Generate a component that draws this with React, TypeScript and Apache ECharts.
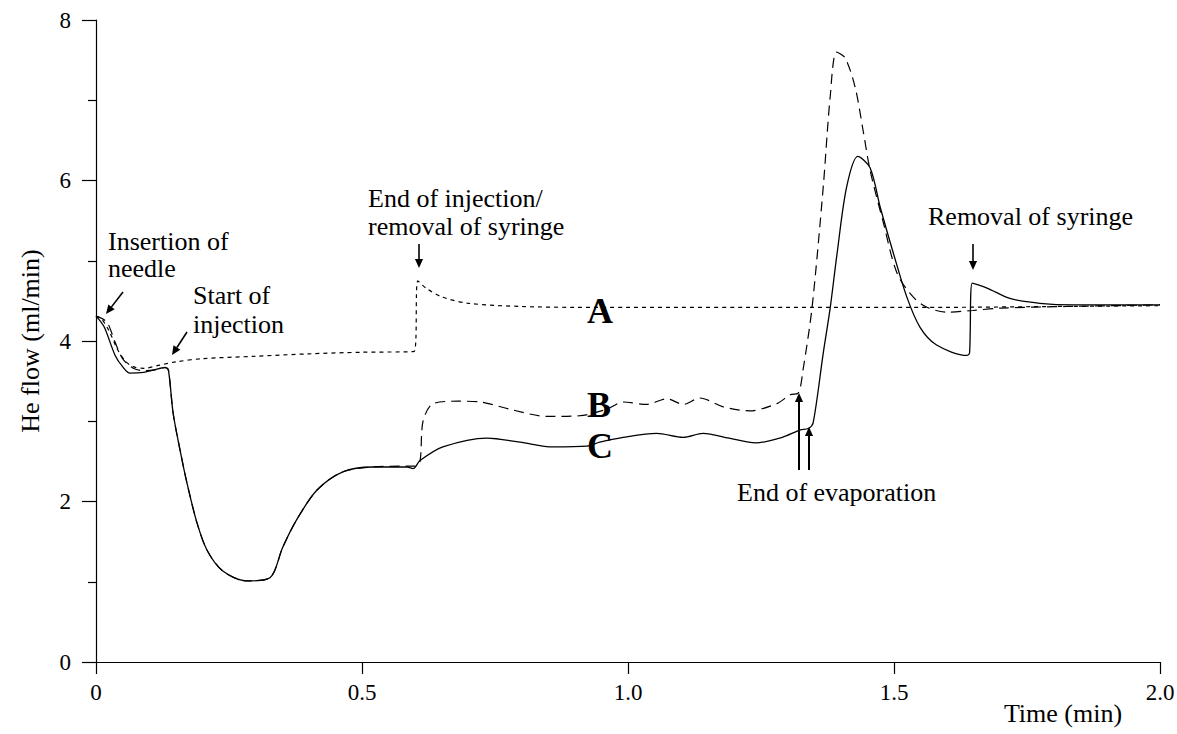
import React, { useEffect, useRef } from "react";
import * as echarts from "echarts";

// Curve A (short dashes)
const timeA = [0, 0.01, 0.025, 0.04, 0.055, 0.07, 0.09, 0.12, 0.15, 0.2, 0.3, 0.4, 0.5, 0.598, 0.605, 0.62, 0.65, 0.7, 0.8, 0.9, 1.0, 1.3, 1.6, 1.8, 2.0];
const flowA = [4.31, 4.28, 4.12, 3.9, 3.75, 3.68, 3.66, 3.7, 3.74, 3.78, 3.81, 3.84, 3.86, 3.87, 4.75, 4.66, 4.55, 4.47, 4.43, 4.42, 4.42, 4.42, 4.42, 4.43, 4.44];

// Curve B (long dashes)
const timeB = [0, 0.02, 0.035, 0.05, 0.07, 0.09, 0.11, 0.13, 0.136, 0.145, 0.158, 0.171, 0.19, 0.209, 0.239, 0.284, 0.327, 0.351, 0.377, 0.415, 0.464, 0.52, 0.584, 0.6, 0.609, 0.615, 0.634, 0.68, 0.722, 0.784, 0.847, 0.91, 0.96, 0.991, 1.035, 1.073, 1.104, 1.135, 1.179, 1.229, 1.28, 1.305, 1.32, 1.329, 1.346, 1.367, 1.38, 1.392, 1.408, 1.427, 1.442, 1.455, 1.479, 1.506, 1.536, 1.562, 1.6, 1.648, 1.7, 1.825, 2.0];
const flowB = [4.31, 4.24, 4.0, 3.78, 3.66, 3.63, 3.64, 3.67, 3.64, 3.1, 2.64, 2.23, 1.73, 1.39, 1.13, 1.01, 1.05, 1.43, 1.77, 2.14, 2.37, 2.43, 2.44, 2.44, 2.5, 3.01, 3.22, 3.25, 3.24, 3.14, 3.06, 3.07, 3.15, 3.24, 3.21, 3.28, 3.21, 3.29, 3.18, 3.13, 3.22, 3.33, 3.35, 3.64, 4.42, 5.92, 7.04, 7.6, 7.53, 7.16, 6.62, 6.13, 5.5, 4.84, 4.55, 4.42, 4.36, 4.38, 4.41, 4.43, 4.45];

// Curve C (solid)
const timeC = [0, 0.015, 0.036, 0.05, 0.064, 0.09, 0.11, 0.13, 0.136, 0.145, 0.158, 0.171, 0.19, 0.209, 0.239, 0.284, 0.327, 0.351, 0.377, 0.415, 0.464, 0.52, 0.585, 0.596, 0.609, 0.652, 0.735, 0.797, 0.859, 0.923, 0.947, 0.991, 1.054, 1.104, 1.141, 1.19, 1.24, 1.29, 1.323, 1.339, 1.348, 1.367, 1.38, 1.393, 1.411, 1.432, 1.455, 1.474, 1.499, 1.524, 1.549, 1.58, 1.637, 1.642, 1.647, 1.675, 1.718, 1.774, 1.837, 2.0];
const flowC = [4.31, 4.18, 3.82, 3.68, 3.6, 3.61, 3.64, 3.67, 3.64, 3.1, 2.64, 2.23, 1.73, 1.39, 1.13, 1.01, 1.05, 1.43, 1.77, 2.14, 2.37, 2.43, 2.43, 2.41, 2.51, 2.68, 2.79, 2.74, 2.68, 2.69, 2.74, 2.8, 2.85, 2.8, 2.85, 2.79, 2.73, 2.8, 2.89, 2.91, 2.98, 3.85, 4.41, 5.09, 5.92, 6.3, 6.16, 5.67, 5.09, 4.55, 4.17, 3.95, 3.82, 3.85, 4.72, 4.66, 4.53, 4.47, 4.45, 4.45];

const xTicks = [0, 0.5, 1.0, 1.5, 2.0];
const xTickLabels = ["0", "0.5", "1.0", "1.5", "2.0"];

const zip = (xs: number[], ys: number[]) => xs.map((x, i) => [x, ys[i]]);

const FONT = "Liberation Serif";

function arrow(x1: number, y1: number, x2: number, y2: number, w = 1.6, head = 9) {
  const ang = Math.atan2(y2 - y1, x2 - x1);
  const hw = head * 0.45;
  const bx = x2 - Math.cos(ang) * head;
  const by = y2 - Math.sin(ang) * head;
  const px = -Math.sin(ang) * hw;
  const py = Math.cos(ang) * hw;
  return [
    { type: "line", shape: { x1, y1, x2: bx, y2: by }, style: { stroke: "#000", lineWidth: w } },
    {
      type: "polygon",
      shape: { points: [[x2, y2], [bx + px, by + py], [bx - px, by - py]] },
      style: { fill: "#000" },
    },
  ];
}

function label(text: string, x: number, y: number, size = 26, bold = false, align = "left") {
  return {
    type: "text",
    x,
    y,
    style: {
      text,
      fill: "#000",
      fontFamily: FONT,
      fontSize: size,
      fontWeight: bold ? "bold" : "normal",
      align,
      verticalAlign: "middle",
    },
  };
}

export default function App() {
  const ref = useRef<HTMLDivElement>(null);
  useEffect(() => {
    if (!ref.current) return;
    const chart = echarts.init(ref.current, undefined, { renderer: "svg" });
    const lineSeries = (name: string, data: number[][], type: any, width: number) => ({
      name,
      type: "line",
      data,
      showSymbol: false,
      symbol: "none",
      smooth: 0.3,
      lineStyle: { color: "#000", width, type },
      z: 3,
    });
    chart.setOption({
      animation: false,
      backgroundColor: "#fff",
      textStyle: { fontFamily: FONT },
      grid: { left: 96, right: 17, top: 20, bottom: 72, containLabel: false, outerBoundsMode: "none" },
      xAxis: {
        type: "value",
        min: 0,
        max: 2,
        interval: 0.5,
        axisLine: { lineStyle: { color: "#000", width: 1.2 } },
        axisTick: { show: true, length: 12, inside: false, lineStyle: { color: "#000", width: 1.2 } },
        axisLabel: {
          fontFamily: FONT,
          fontSize: 23,
          color: "#000",
          margin: 19,
          formatter: (v: number) => {
            const i = xTicks.findIndex((t) => Math.abs(t - v) < 1e-9);
            return i >= 0 ? xTickLabels[i] : "";
          },
        },
        splitLine: { show: false },
      },
      yAxis: {
        type: "value",
        min: 0,
        max: 8,
        interval: 2,
        name: "He flow (ml/min)",
        nameLocation: "middle",
        nameGap: 53,
        nameTextStyle: { fontFamily: FONT, fontSize: 26, color: "#000" },
        axisLine: { show: true, lineStyle: { color: "#000", width: 1.2 } },
        axisTick: { show: true, length: 14, inside: false, lineStyle: { color: "#000", width: 1.2 } },
        minorTick: { show: true, splitNumber: 2, length: 8, lineStyle: { color: "#000", width: 1.2 } },
        axisLabel: { fontFamily: FONT, fontSize: 23, color: "#000", margin: 25 },
        splitLine: { show: false },
        minorSplitLine: { show: false },
      },
      series: [
        lineSeries("A", zip(timeA, flowA), [4, 4], 1.2),
        lineSeries("B", zip(timeB, flowB), [10, 6], 1.2),
        lineSeries("C", zip(timeC, flowC), "solid", 1.3),
      ],
      graphic: [
        label("Time (min)", 1063, 713, 26, false, "center"),
        label("Insertion of", 108, 241),
        label("needle", 108, 268),
        ...arrow(123, 292, 106, 314),
        label("Start of", 193, 295),
        label("injection", 193, 324),
        ...arrow(187, 332, 172, 355),
        label("End of injection/", 368, 198),
        label("removal of syringe", 368, 226),
        ...arrow(419, 244, 419, 268),
        label("A", 587, 311, 36, true),
        label("B", 587, 405, 36, true),
        label("C", 587, 446, 36, true),
        label("End of evaporation", 737, 492),
        ...arrow(799, 470, 799, 393, 2),
        ...arrow(809, 470, 809, 427, 2),
        label("Removal of syringe", 928, 216),
        ...arrow(973, 244, 973, 270),
      ],
    });
    return () => chart.dispose();
  }, []);
  return (
    <div
      ref={ref}
      style={{ position: "absolute", left: 0, top: 0, width: 1177, height: 734, background: "#fff" }}
    />
  );
}
